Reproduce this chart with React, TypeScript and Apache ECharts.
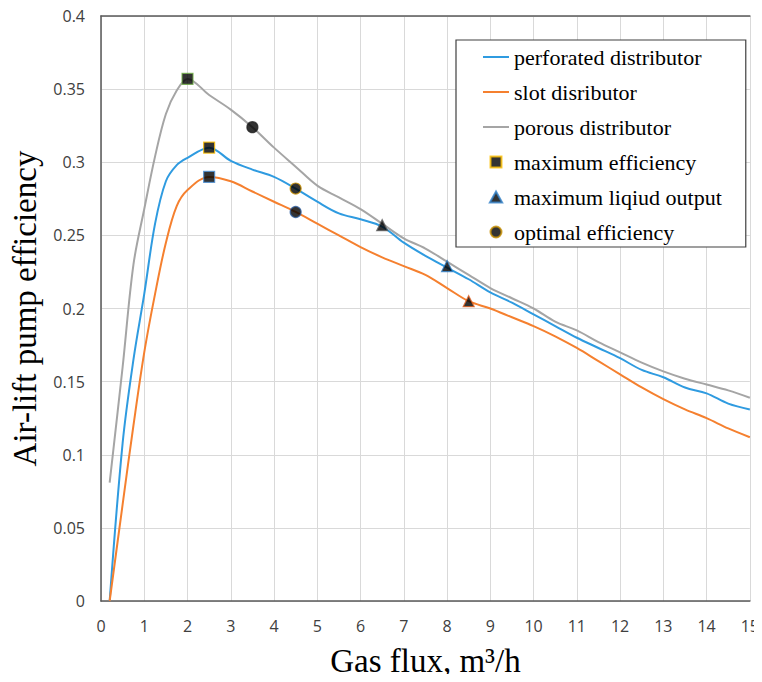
import React, { useEffect, useRef } from "react";
import * as echarts from "echarts";

const xs = [0.2, 0.5, 0.75, 1, 1.25, 1.5, 1.75, 2, 2.5, 3, 3.5, 4, 4.5, 5, 5.5, 6, 6.5, 7, 7.5, 8, 8.5, 9, 9.5, 10, 10.5, 11, 11.5, 12, 12.5, 13, 13.5, 14, 14.5, 15];

const perforated = [0, 0.108, 0.165, 0.21, 0.258, 0.287, 0.298, 0.303, 0.31, 0.301, 0.295, 0.29, 0.282, 0.273, 0.265, 0.261, 0.256, 0.245, 0.236, 0.228, 0.22, 0.211, 0.204, 0.196, 0.188, 0.18, 0.173, 0.166, 0.158, 0.153, 0.146, 0.142, 0.135, 0.131];

const slot = [0, 0.066, 0.12, 0.17, 0.21, 0.245, 0.27, 0.281, 0.29, 0.287, 0.28, 0.273, 0.266, 0.258, 0.25, 0.242, 0.235, 0.229, 0.223, 0.214, 0.205, 0.2, 0.194, 0.188, 0.181, 0.173, 0.164, 0.155, 0.146, 0.138, 0.131, 0.125, 0.118, 0.112];

const porous = [0.081, 0.16, 0.23, 0.268, 0.304, 0.333, 0.349, 0.357, 0.346, 0.336, 0.324, 0.31, 0.297, 0.284, 0.276, 0.268, 0.258, 0.248, 0.241, 0.232, 0.223, 0.214, 0.207, 0.2, 0.191, 0.185, 0.177, 0.17, 0.163, 0.157, 0.152, 0.148, 0.144, 0.139];

const maxEffX = [2, 2.5, 2.5];
const maxEffY = [0.357, 0.31, 0.29];
const maxLiqX = [6.5, 8, 8.5];
const maxLiqY = [0.257, 0.229, 0.205];
const optX = [3.5, 4.5, 4.5];
const optY = [0.324, 0.282, 0.266];

const seriesNames = [
  "perforated distributor",
  "slot disributor",
  "porous distributor",
  "maximum efficiency",
  "maximum liqiud output",
  "optimal efficiency",
];

const BLUE = "#2f9be0";
const ORANGE = "#f5802f";
const GRAY = "#a5a5a5";

const maxEffBorders = ["#70ad47", "#ffc000", "#4a8fd4"];
const maxLiqBorders = ["#606060", "#2f7fc8", "#e06020"];
const optBorders = ["#222222", "#c89000", "#2f5f9f"];

const LINE_ICON = "path://M0 0H26V2H0Z";
const SQUARE_ICON = "path://M0 0H10V10H0Z";
const TRIANGLE_ICON = "path://M5 0L10 9H0Z";
const CIRCLE_ICON = "path://M5 0A5 5 0 1 1 5 10A5 5 0 1 1 5 0Z";
const legendIcons = [LINE_ICON, LINE_ICON, LINE_ICON, SQUARE_ICON, TRIANGLE_ICON, CIRCLE_ICON];

const pair = (x: number[], y: number[]) => x.map((v, i) => [v, y[i]]);

export default function App() {
  const ref = useRef<HTMLDivElement>(null);
  useEffect(() => {
    if (!ref.current) return;
    const chart = echarts.init(ref.current, undefined, { renderer: "svg" });
    const lineSeries = (name: string, ys: number[], color: string) => ({
      name,
      type: "line",
      data: pair(xs, ys),
      smooth: 0.35,
      symbol: "none",
      lineStyle: { color, width: 2 },
      itemStyle: { color },
      z: 2,
    });
    const markerSeries = (
      name: string,
      x: number[],
      y: number[],
      symbol: string,
      legendBorder: string,
      borders: string[]
    ) => ({
      name,
      type: "scatter",
      symbol,
      symbolSize: 11,
      itemStyle: { color: "#000", borderColor: legendBorder, borderWidth: 1.2 },
      data: x.map((v, i) => ({
        value: [v, y[i]],
        itemStyle: { color: "#000", borderColor: borders[i], borderWidth: 1.2 },
      })),
      z: 5,
    });
    chart.setOption({
      animation: false,
      backgroundColor: "#fff",
      grid: { left: 101, right: 8, top: 16, bottom: 78 },
      xAxis: [
        {
          type: "value",
          min: 0,
          max: 15,
          interval: 1,
          name: "Gas flux, m³/h",
          nameLocation: "middle",
          nameGap: 43,
          nameTextStyle: { fontFamily: "Liberation Serif", fontSize: 33, color: "#000" },
          axisLine: { show: true, lineStyle: { color: "#595959", width: 1.5 } },
          axisTick: { show: false },
          axisLabel: { fontFamily: "Open Sans", fontSize: 16, color: "#404040", margin: 17 },
          splitLine: { show: true, lineStyle: { color: "#d9d9d9", width: 1 } },
        },
        {
          type: "value",
          min: 0,
          max: 15,
          position: "top",
          axisLine: { show: true, onZero: false, lineStyle: { color: "#595959", width: 1.5 } },
          axisTick: { show: false },
          axisLabel: { show: false },
          splitLine: { show: false },
        },
      ],
      yAxis: {
        type: "value",
        min: 0,
        max: 0.4,
        interval: 0.05,
        name: "Air-lift pump efficiency",
        nameLocation: "middle",
        nameGap: 60,
        nameTextStyle: { fontFamily: "Liberation Serif", fontSize: 33, color: "#000" },
        axisLine: { show: true, lineStyle: { color: "#595959", width: 1.5 } },
        axisTick: { show: false },
        axisLabel: { fontFamily: "Open Sans", fontSize: 16, color: "#404040", margin: 16 },
        splitLine: { show: true, lineStyle: { color: "#d9d9d9", width: 1 } },
      },
      legend: {
        orient: "vertical",
        left: 456,
        top: 40,
        itemWidth: 26,
        itemHeight: 11,
        itemGap: 11,
        symbolKeepAspect: true,
        padding: [5, 24, 3, 27],
        borderColor: "#404040",
        borderWidth: 1.2,
        backgroundColor: "#fff",
        textStyle: { fontFamily: "Liberation Serif", fontSize: 22, lineHeight: 24, color: "#000" },
        data: seriesNames.map((n, i) => ({ name: n, icon: legendIcons[i] })),
      },
      series: [
        lineSeries(seriesNames[0], perforated, BLUE),
        lineSeries(seriesNames[1], slot, ORANGE),
        lineSeries(seriesNames[2], porous, GRAY),
        markerSeries(seriesNames[3], maxEffX, maxEffY, "rect", "#ffc000", maxEffBorders),
        markerSeries(seriesNames[4], maxLiqX, maxLiqY, "triangle", "#2f7fc8", maxLiqBorders),
        markerSeries(seriesNames[5], optX, optY, "circle", "#c89000", optBorders),
      ],
    });
    return () => chart.dispose();
  }, []);
  return <div ref={ref} style={{ width: 762, height: 682, margin: -8 }} />;
}
